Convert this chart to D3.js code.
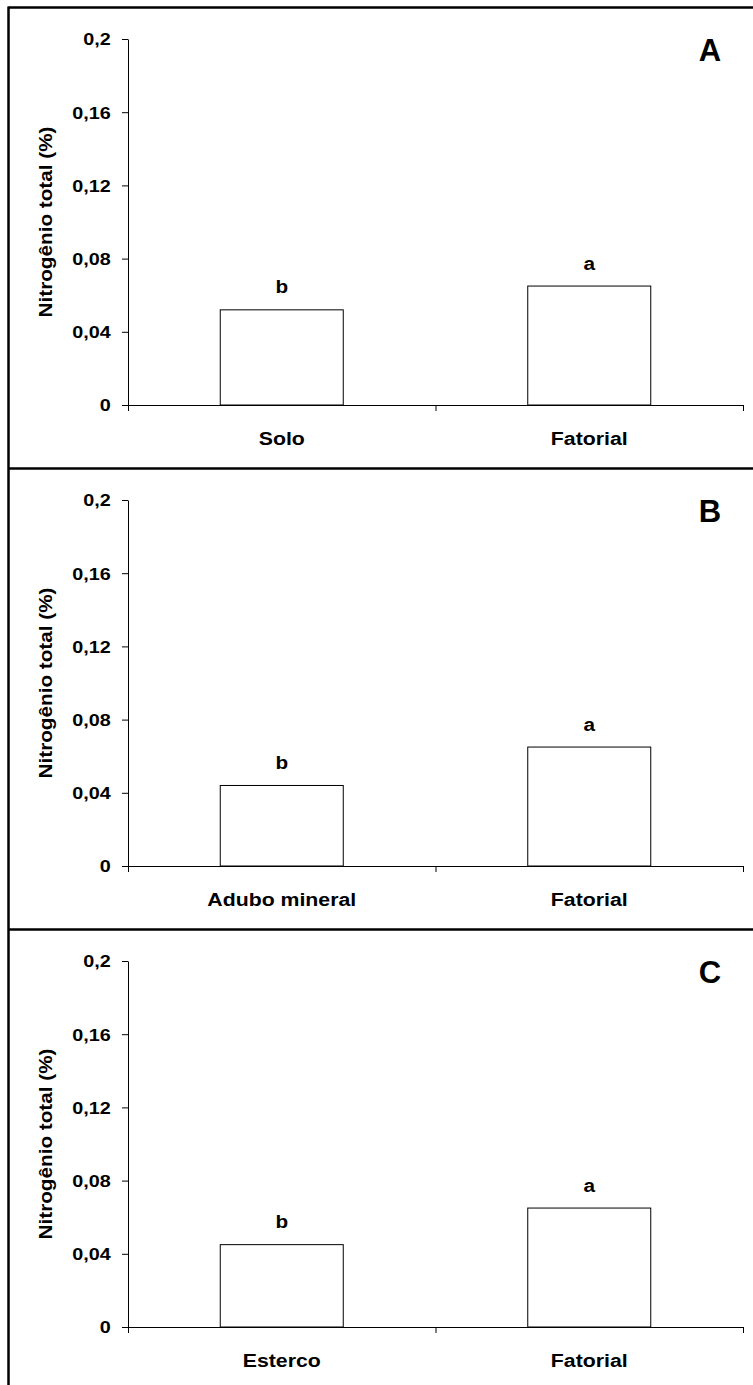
<!DOCTYPE html>
<html>
<head>
<meta charset="utf-8">
<script src="https://cdn.jsdelivr.net/npm/d3@7"></script>
<style>
  html, body { margin: 0; padding: 0; background: #fff; }
  svg { display: block; }
  text { font-family: "Liberation Sans", Arial, Helvetica, sans-serif; font-weight: bold; fill: #000; }
</style>
</head>
<body>
<svg id="chart" width="753" height="1385"></svg>
<script>
// Total nitrogen (%) — each treatment compared with the factorial mean
const panelLetters = ["A", "B", "C"];
const treatmentLabels = ["Solo", "Adubo mineral", "Esterco"];
const factorialLabel = "Fatorial";
const treatmentValues = [0.052, 0.044, 0.045];
const factorialValues = [0.065, 0.065, 0.065];
const treatmentLetters = ["b", "b", "b"];
const factorialLetters = ["a", "a", "a"];
const yTicks = [0, 0.04, 0.08, 0.12, 0.16, 0.2];
const yTickLabels = ["0", "0,04", "0,08", "0,12", "0,16", "0,2"];
const yTitle = "Nitrogênio total (%)";

const svg = d3.select("#chart");
const W = 753, H = 1385;
const frameLeft = 8.5, frameTop = 7.5;
const panelHeight = 461;
const plotLeft = 128, plotRight = 743;
const stretchTick = 1.2, stretchText = 1.12;

// outer frame (left and top edges) and panel separators
svg.append("line").attr("x1", frameLeft).attr("x2", frameLeft).attr("y1", frameTop - 1).attr("y2", H)
  .attr("stroke", "#000").attr("stroke-width", 2.5);
svg.append("line").attr("x1", frameLeft).attr("x2", W).attr("y1", frameTop).attr("y2", frameTop)
  .attr("stroke", "#000").attr("stroke-width", 2.5);

panelLetters.forEach((letter, i) => {
  const top = 7 + i * panelHeight;
  if (i > 0) {
    svg.append("line").attr("x1", frameLeft).attr("x2", W).attr("y1", top + 0.5).attr("y2", top + 0.5)
      .attr("stroke", "#000").attr("stroke-width", 2.5);
  }

  const g = svg.append("g");
  const y = d3.scaleLinear().domain([0, 0.2]).range([top + 398, top + 32]);
  const cats = [treatmentLabels[i], factorialLabel];
  const vals = [treatmentValues[i], factorialValues[i]];
  const sig = [treatmentLetters[i], factorialLetters[i]];
  const x = d3.scaleBand().domain(cats).range([plotLeft, plotRight]).paddingInner(0).paddingOuter(0);
  const xEdges = d3.scaleLinear().domain([0, cats.length]).range([plotLeft, plotRight]);
  const bw = x.bandwidth() * 0.4;

  // bars
  g.selectAll("rect.bar").data(cats).join("rect")
    .attr("class", "bar")
    .attr("x", d => x(d) + (x.bandwidth() - bw) / 2)
    .attr("width", bw)
    .attr("y", (d, j) => y(vals[j]))
    .attr("height", (d, j) => y(0) - y(vals[j]))
    .attr("fill", "#fff").attr("stroke", "#000").attr("stroke-width", 1);

  // significance letters
  g.selectAll("text.sig").data(cats).join("text")
    .attr("class", "sig")
    .attr("text-anchor", "middle")
    .attr("font-size", 18.5)
    .attr("transform", (d, j) => `translate(${x(d) + x.bandwidth() / 2},${y(vals[j]) - 16.5}) scale(${stretchText},1)`)
    .text((d, j) => sig[j]);

  // y axis
  const yAxis = g.append("g").attr("transform", `translate(${plotLeft},0)`)
    .call(d3.axisLeft(y).tickValues(yTicks).tickFormat((d, k) => yTickLabels[k]).tickSize(6).tickSizeOuter(0));
  yAxis.select(".domain").attr("stroke", "#000");
  yAxis.selectAll(".tick line").attr("stroke", "#000");
  yAxis.selectAll(".tick text")
    .attr("x", null).attr("dy", null)
    .attr("font-family", null).attr("font-size", 16.5)
    .attr("text-anchor", "end")
    .attr("transform", `translate(-17.3,5.9) scale(${stretchTick},1)`);

  // x axis: line at zero with ticks at the category boundaries
  const xAxis = g.append("g").attr("transform", `translate(0,${y(0)})`)
    .call(d3.axisBottom(xEdges).tickValues(d3.range(cats.length + 1)).tickFormat("").tickSize(6).tickSizeOuter(0));
  xAxis.select(".domain").attr("stroke", "#000");
  xAxis.selectAll(".tick line").attr("stroke", "#000");

  // category labels
  g.selectAll("text.cat").data(cats).join("text")
    .attr("class", "cat")
    .attr("text-anchor", "middle")
    .attr("font-size", 19)
    .attr("transform", d => `translate(${x(d) + x.bandwidth() / 2},${top + 437.5}) scale(${stretchText},1)`)
    .text(d => d);

  // y axis title
  g.append("text")
    .attr("text-anchor", "middle")
    .attr("font-size", 18.5)
    .attr("transform", `translate(51.7,${(y(0) + y(0.2)) / 2}) rotate(-90) scale(${stretchText},1)`)
    .text(yTitle);

  // panel letter
  g.append("text")
    .attr("text-anchor", "middle")
    .attr("font-size", 31)
    .attr("transform", `translate(710,${top + 53.7})`)
    .text(letter);
});
</script>
</body>
</html>
